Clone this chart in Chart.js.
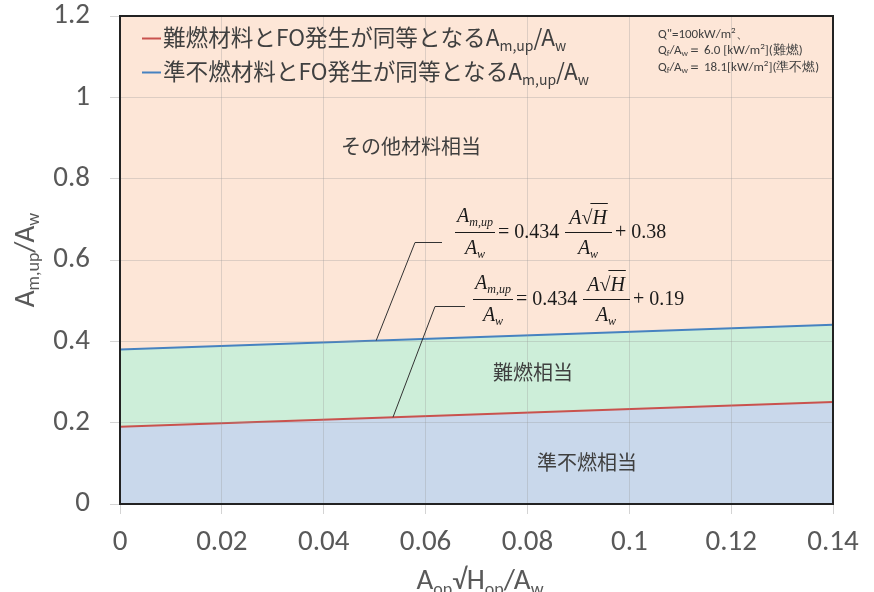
<!DOCTYPE html>
<html><head><meta charset="utf-8">
<script src="https://cdn.jsdelivr.net/npm/chart.js@4.4.1/dist/chart.umd.min.js"></script>
<style>html,body{margin:0;padding:0;background:#fff;}#wrap{width:874px;height:592px;}</style>
</head><body><div id="wrap"><canvas id="c" width="874" height="592"></canvas></div>
<script>
// Boundary lines: A_m,up/A_w = 0.434 * A√H/A_w + b
const xPoints = [0, 0.14];
const fireRetardantLine = [0.19, 0.25076];   // b = 0.19 (難燃)
const quasiNonCombLine = [0.38, 0.44076];    // b = 0.38 (準不燃)
const upperBound = [1.2, 1.2];
const xTickLabels = ['0', '0.02', '0.04', '0.06', '0.08', '0.1', '0.12', '0.14'];
const yTickLabels = ['0', '0.2', '0.4', '0.6', '0.8', '1', '1.2'];
const legendLabels = ['難燃材料とFO発生が同等となる', '準不燃材料とFO発生が同等となる'];
const regionLabels = ['その他材料相当', '難燃相当', '準不燃相当'];
const eqSlope = '0.434';
const eqConstants = ['0.38', '0.19'];

const TICK_FONT = "'Carlito','Liberation Sans Narrow','Open Sans',sans-serif";
const JP_FONT = "'Noto Sans CJK JP','Noto Sans',sans-serif";
const SERIF = "'Liberation Serif','DejaVu Serif',serif";
const RED = '#c9524e', BLUE = '#4682c0';

const pts = (ys) => xPoints.map((x, i) => ({x: x, y: ys[i]}));

// draw a sequence of text runs (for sub/superscripts)
function drawRuns(ctx, runs, x, y, align) {
  let total = 0;
  runs.forEach(r => { ctx.font = r.f; r.w = ctx.measureText(r.t).width; total += r.w; });
  let cx = align === 'center' ? x - total / 2 : (align === 'right' ? x - total : x);
  ctx.textAlign = 'left';
  ctx.textBaseline = 'alphabetic';
  runs.forEach(r => { ctx.font = r.f; ctx.fillText(r.t, cx, y + (r.dy || 0)); cx += r.w; });
  return total;
}

function drawEquation(ctx, x0, yb, constant) {
  const big = 'italic 20px ' + SERIF, sm = 'italic 12px ' + SERIF, reg = '20px ' + SERIF;
  ctx.fillStyle = '#1a1a1a';
  ctx.strokeStyle = '#1a1a1a';
  ctx.lineWidth = 1;
  // first fraction
  ctx.beginPath(); ctx.moveTo(x0, yb + 0.5); ctx.lineTo(x0 + 40, yb + 0.5); ctx.stroke();
  drawRuns(ctx, [{t: 'A', f: big}, {t: 'm,up', f: sm, dy: 4}], x0 + 20, yb - 10, 'center');
  drawRuns(ctx, [{t: 'A', f: big}, {t: 'w', f: sm, dy: 4}], x0 + 20, yb + 22, 'center');
  // = 0.434
  drawRuns(ctx, [{t: '= ' + eqSlope, f: reg}], x0 + 43, yb + 6, 'left');
  // second fraction
  ctx.beginPath(); ctx.moveTo(x0 + 110, yb + 0.5); ctx.lineTo(x0 + 157, yb + 0.5); ctx.stroke();
  ctx.font = big;
  const wA = ctx.measureText('A').width;
  ctx.font = reg;
  const wR = ctx.measureText('√').width;
  ctx.font = big;
  const wH = ctx.measureText('H').width;
  const nx = x0 + 133 - (wA + wR + wH) / 2;
  ctx.font = big; ctx.textAlign = 'left'; ctx.fillText('A', nx, yb - 8);
  ctx.font = reg; ctx.fillText('√', nx + wA, yb - 8);
  ctx.font = big; ctx.fillText('H', nx + wA + wR, yb - 8);
  ctx.beginPath(); ctx.moveTo(nx + wA + wR - 2, yb - 28.5); ctx.lineTo(nx + wA + wR + wH + 1, yb - 28.5); ctx.stroke();
  drawRuns(ctx, [{t: 'A', f: big}, {t: 'w', f: sm, dy: 4}], x0 + 133, yb + 22, 'center');
  drawRuns(ctx, [{t: '+ ' + constant, f: reg}], x0 + 160, yb + 6, 'left');
}

const overlay = {
  id: 'overlay',
  afterDraw(chart) {
    const ctx = chart.ctx, a = chart.chartArea;
    const xs = chart.scales.x, ys = chart.scales.y;
    ctx.save();
    // plot frame
    ctx.strokeStyle = '#222';
    ctx.lineWidth = 2;
    ctx.strokeRect(a.left, a.top, a.right - a.left, a.bottom - a.top);

    // legend
    const lf = '22.6px ' + JP_FONT, ls = '14px ' + JP_FONT;
    [[RED, 38], [BLUE, 72]].forEach((c, i) => {
      ctx.strokeStyle = c[0]; ctx.lineWidth = 2;
      ctx.beginPath(); ctx.moveTo(142, c[1] + 0.5); ctx.lineTo(161, c[1] + 0.5); ctx.stroke();
      ctx.fillStyle = '#404040';
      drawRuns(ctx, [{t: legendLabels[i], f: lf}, {t: 'A', f: lf}, {t: 'm,up', f: ls, dy: 5},
        {t: '/A', f: lf}, {t: 'w', f: ls, dy: 5}], 163, c[1] + 8, 'left');
    });

    // conditions note
    const nf = '13px ' + TICK_FONT, nfs = '9px ' + TICK_FONT;
    ctx.fillStyle = '#404040';
    drawRuns(ctx, [{t: 'Q"=100kW/m', f: nf}, {t: '2', f: nfs, dy: -5}, {t: '、', f: nf}], 658, 38, 'left');
    drawRuns(ctx, [{t: 'Q', f: nf}, {t: 'f', f: nfs, dy: 2}, {t: '/A', f: nf}, {t: 'w', f: nfs, dy: 2},
      {t: '＝ 6.0 [kW/m', f: nf}, {t: '2', f: nfs, dy: -5}, {t: '](難燃)', f: nf}], 658, 54, 'left');
    drawRuns(ctx, [{t: 'Q', f: nf}, {t: 'f', f: nfs, dy: 2}, {t: '/A', f: nf}, {t: 'w', f: nfs, dy: 2},
      {t: '＝ 18.1[kW/m', f: nf}, {t: '2', f: nfs, dy: -5}, {t: '](準不燃)', f: nf}], 658, 71, 'left');

    // region names
    ctx.fillStyle = '#3f3f3f';
    ctx.font = '20px ' + JP_FONT;
    ctx.textAlign = 'center'; ctx.textBaseline = 'middle';
    ctx.fillText(regionLabels[0], 411, 146);
    ctx.fillText(regionLabels[1], 533, 372);
    ctx.fillText(regionLabels[2], 587, 462);

    // leader lines from the equations to their boundary lines
    ctx.strokeStyle = '#333'; ctx.lineWidth = 1;
    const ax1 = 0.0503, ax2 = 0.0536;
    const p1 = {x: xs.getPixelForValue(ax1), y: ys.getPixelForValue(0.434 * ax1 + 0.38)};
    const p2 = {x: xs.getPixelForValue(ax2), y: ys.getPixelForValue(0.434 * ax2 + 0.19)};
    ctx.beginPath(); ctx.moveTo(p1.x, p1.y); ctx.lineTo(415, 242.5); ctx.lineTo(442, 242.5); ctx.stroke();
    ctx.beginPath(); ctx.moveTo(p2.x, p2.y); ctx.lineTo(435, 306.5); ctx.lineTo(465, 306.5); ctx.stroke();

    // equations
    drawEquation(ctx, 455, 232, eqConstants[0]);
    drawEquation(ctx, 473, 299, eqConstants[1]);

    // axis titles
    ctx.fillStyle = '#595959';
    const tf = '29px ' + TICK_FONT, ts = '18px ' + TICK_FONT;
    drawRuns(ctx, [{t: 'A', f: tf}, {t: 'op', f: ts, dy: 6}, {t: '√H', f: tf}, {t: 'op', f: ts, dy: 6},
      {t: '/A', f: tf}, {t: 'w', f: ts, dy: 6}], 480, 589, 'center');
    ctx.translate(34, 260);
    ctx.rotate(-Math.PI / 2);
    drawRuns(ctx, [{t: 'A', f: tf}, {t: 'm,up', f: ts, dy: 5}, {t: '/A', f: tf}, {t: 'w', f: ts, dy: 5}], 0, 0, 'center');
    ctx.restore();
  }
};

new Chart(document.getElementById('c'), {
  type: 'line',
  data: {
    datasets: [
      {data: pts(fireRetardantLine), borderColor: RED, borderWidth: 2, pointRadius: 0,
        fill: 'origin', backgroundColor: '#c9d8eb'},
      {data: pts(quasiNonCombLine), borderColor: BLUE, borderWidth: 2, pointRadius: 0,
        fill: '-1', backgroundColor: '#cdeed9'},
      {data: pts(upperBound), borderWidth: 0, borderColor: 'rgba(0,0,0,0)', pointRadius: 0,
        fill: '-1', backgroundColor: '#fde6d7'}
    ]
  },
  options: {
    responsive: false,
    animation: false,
    devicePixelRatio: 1,
    layout: {padding: {top: 16, right: 41, bottom: 0, left: 0}},
    plugins: {legend: {display: false}, tooltip: {enabled: false}},
    scales: {
      x: {
        type: 'linear', min: 0, max: 0.14,
        afterFit: s => { s.height = 88; s.paddingLeft = 0; s.paddingRight = 0; },
        afterBuildTicks: s => { s.ticks = xTickLabels.map(v => ({value: parseFloat(v)})); },
        ticks: {callback: (v, i) => xTickLabels[i], color: '#595959', padding: 11,
          font: {family: TICK_FONT, size: 29}, maxRotation: 0, autoSkip: false},
        grid: {color: 'rgba(150,150,150,0.3)', tickColor: '#d4d4d4', tickLength: 10, z: 1},
        border: {display: false}
      },
      y: {
        min: 0, max: 1.2,
        afterFit: s => { s.width = 120; s.paddingTop = 0; s.paddingBottom = 0; },
        afterBuildTicks: s => { s.ticks = yTickLabels.map(v => ({value: parseFloat(v)})); },
        ticks: {callback: (v, i) => yTickLabels[i], color: '#595959', padding: 20,
          font: {family: TICK_FONT, size: 29}},
        grid: {color: 'rgba(150,150,150,0.3)', tickColor: '#d4d4d4', tickLength: 10, z: 1},
        border: {display: false}
      }
    }
  },
  plugins: [overlay]
});
</script></body></html>
